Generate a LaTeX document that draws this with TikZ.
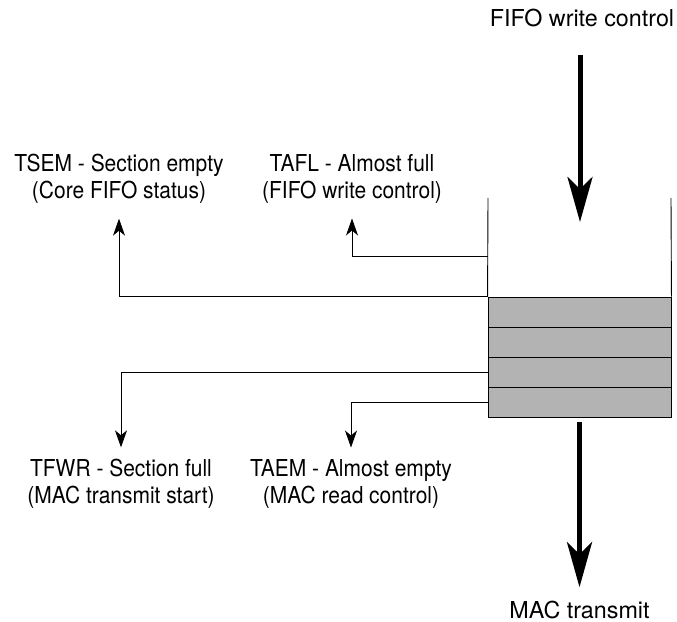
\documentclass[tikz,border=0pt]{standalone}
\usepackage{fontspec}
\setmainfont{TeX Gyre Heros}
\newfontfamily\narrowheros[FakeStretch=0.9]{TeX Gyre Heros}
\usetikzlibrary{arrows.meta}
\definecolor{fifogray}{RGB}{179,179,179}
\begin{document}
\begin{tikzpicture}[x=1bp,y=-1bp,
  lbl/.style={align=center,inner sep=0pt,font=\fontsize{23.3bp}{26.6bp}\selectfont},
  sidelbl/.style={align=center,inner sep=0pt,font=\fontsize{23.3bp}{26.6bp}\narrowheros},
  rowbox/.style={draw,fill=fifogray,minimum width=183bp,minimum height=30bp,inner sep=0pt,line width=0.9bp},
  wall/.style={line width=0.9bp},
  sarrow/.style={line width=0.8bp,-{Stealth[length=17bp,width=12bp,inset=5bp]}},
  bigarrow/.style={line width=5bp,-{Stealth[length=45bp,width=25bp,inset=12bp]}}]
\useasboundingbox (0,0) rectangle (677,622);
% FIFO rows
\node[rowbox] (r1) at (579.5,312) {};
\node[rowbox] (r2) at (579.5,342) {};
\node[rowbox] (r3) at (579.5,372) {};
\node[rowbox] (r4) at (579.5,402) {};
\coordinate (wtl) at (488,198);
\coordinate (wtr) at (671,198);
\draw[wall] (r1.north west) -- (wtl);
\draw[wall] (r1.north east) -- (wtr);
% labels
\node[lbl,anchor=base] (wc) at (582,26.7) {FIFO write control};
\node[lbl,anchor=base] (mac) at (579.5,618.3) {MAC transmit};
\node[sidelbl] (tsem) at (119,179) {TSEM - Section empty\\(Core FIFO status)};
\node[sidelbl] (tafl) at (352,179) {TAFL - Almost full\\(FIFO write control)};
\node[sidelbl] (tfwr) at (121,484) {TFWR - Section full\\(MAC transmit start)};
\node[sidelbl] (taem) at (351,484) {TAEM - Almost empty\\(MAC read control)};
% big arrows
\coordinate (inTop) at (580,55);
\coordinate (inTip) at (580,222);
\draw[bigarrow] (inTop) -- (inTip);
\draw[bigarrow,shorten <=5bp,shorten >=13.5bp] (r4.south) -- (mac.north);
% status connectors
\coordinate (afl) at (488,256);
\draw[sarrow] (afl) -| ([yshift=-15bp]tafl.south);
\draw[sarrow] (r1.north west) -| ([yshift=-15bp]tsem.south);
\draw[sarrow] (r3.west) -| ([yshift=12bp]tfwr.north);
\draw[sarrow] (r4.west) -| ([yshift=12bp]taem.north);
\end{tikzpicture}
\end{document}
